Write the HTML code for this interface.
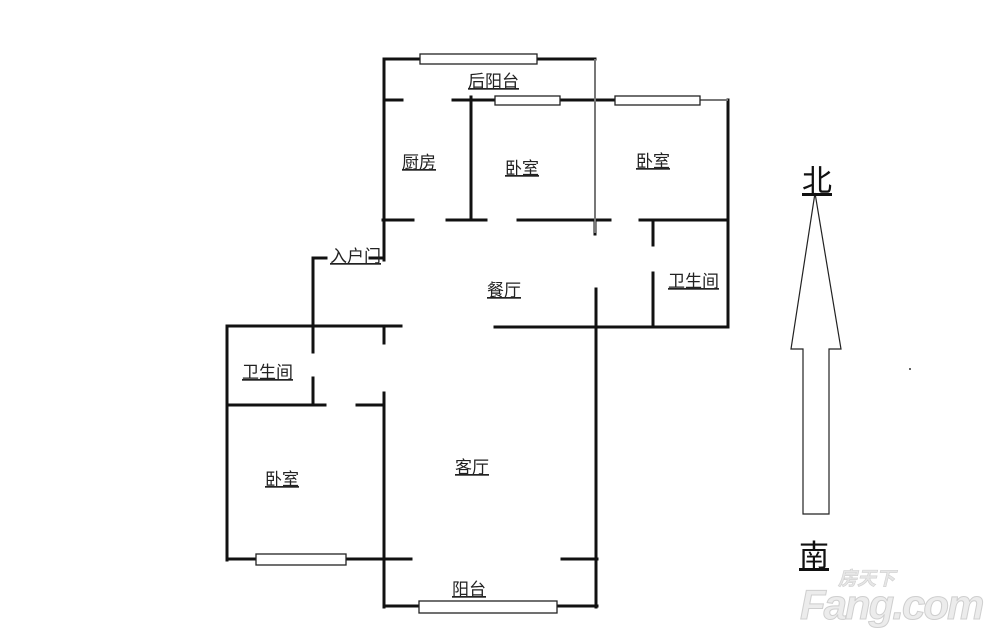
<!DOCTYPE html>
<html><head><meta charset="utf-8"><style>
html,body{margin:0;padding:0;background:#fff;width:1000px;height:637px;overflow:hidden}
svg{display:block}
text{font-family:"Liberation Sans","Noto Sans CJK SC",sans-serif;font-size:17px;fill:#222;text-decoration:underline}
</style></head><body>
<svg width="1000" height="637" viewBox="0 0 1000 637" xmlns="http://www.w3.org/2000/svg">
<g stroke="#111" stroke-width="3" fill="none" stroke-linecap="square">
<line x1="384" y1="59" x2="420" y2="59"/><line x1="537" y1="59" x2="595" y2="59"/>
<line x1="384" y1="59" x2="384" y2="260"/>
<line x1="386" y1="100" x2="402" y2="100"/><line x1="453" y1="100" x2="495" y2="100"/>
<line x1="560" y1="100" x2="615" y2="100"/>
<line x1="728" y1="100" x2="728" y2="327"/>
<line x1="471" y1="97" x2="471" y2="220"/>
<line x1="383" y1="220" x2="413" y2="220"/><line x1="447" y1="220" x2="486" y2="220"/>
<line x1="518" y1="220" x2="610" y2="220"/><line x1="640" y1="220" x2="728" y2="220"/>
<line x1="595" y1="220" x2="595" y2="234"/>
<line x1="653" y1="220" x2="653" y2="245"/><line x1="653" y1="273" x2="653" y2="327"/>
<line x1="596" y1="289" x2="596" y2="607"/>
<line x1="313" y1="258" x2="326" y2="258"/><line x1="370" y1="258" x2="383" y2="258"/>
<line x1="313" y1="258" x2="313" y2="352"/><line x1="313" y1="378" x2="313" y2="405"/>
<line x1="228" y1="326" x2="401" y2="326"/><line x1="495" y1="327" x2="728" y2="327"/>
<line x1="227" y1="326" x2="227" y2="560"/>
<line x1="384" y1="326" x2="384" y2="343"/><line x1="384" y1="393" x2="384" y2="607"/>
<line x1="227" y1="405" x2="325" y2="405"/><line x1="357" y1="405" x2="384" y2="405"/>
<line x1="227" y1="559" x2="256" y2="559"/><line x1="346" y1="559" x2="411" y2="559"/>
<line x1="562" y1="559" x2="597" y2="559"/>
<line x1="384" y1="606" x2="419" y2="606"/><line x1="557" y1="606" x2="597" y2="606"/>
</g>
<g stroke="#777" stroke-width="2" fill="none">
<line x1="595" y1="59" x2="595" y2="233"/>
<line x1="700" y1="100" x2="728" y2="100"/>
</g>
<g stroke="#222" stroke-width="1.3" fill="#fff">
<rect x="420" y="54" width="117" height="10"/>
<rect x="495" y="96" width="65" height="9"/>
<rect x="615" y="96" width="85" height="9"/>
<rect x="256" y="554" width="90" height="11"/>
<rect x="419" y="601" width="138" height="12"/>
</g>
<text x="468" y="87">后阳台</text>
<text x="402" y="168">厨房</text>
<text x="505" y="174">卧室</text>
<text x="636" y="167">卧室</text>
<text x="330" y="262">入户门</text>
<text x="487" y="296">餐厅</text>
<text x="668" y="287">卫生间</text>
<text x="242" y="378">卫生间</text>
<text x="265" y="485">卧室</text>
<text x="455" y="473">客厅</text>
<text x="452" y="595">阳台</text>
<polygon points="815,193 841,349 829,349 829,514 803,514 803,349 791,349" fill="#fff" stroke="#222" stroke-width="1.2"/>
<text x="802" y="191" style="font-size:30px;fill:#111">北</text>
<text x="799" y="566" style="font-size:30px;fill:#111">南</text>
<circle cx="910" cy="369" r="1" fill="#333"/>
<text x="838" y="585" style="font-size:19px;font-style:italic;font-weight:bold;fill:#e6e6e6;stroke:#d0d0d0;stroke-width:0.6;text-decoration:none">房天下</text>
<text x="800" y="619" style="font-size:42px;font-style:italic;font-weight:bold;fill:#ececec;stroke:#cfcfcf;stroke-width:1;letter-spacing:-2px;text-decoration:none">Fang.com</text>
</svg>
</body></html>
